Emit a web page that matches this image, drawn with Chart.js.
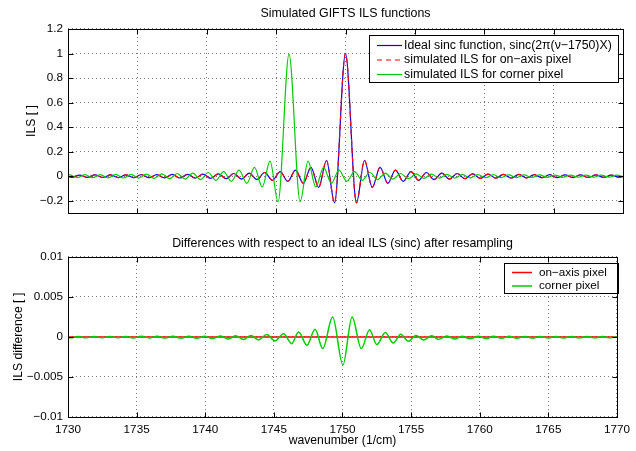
<!DOCTYPE html>
<html>
<head>
<meta charset="utf-8">
<script src="https://cdn.jsdelivr.net/npm/chart.js@4.4.0/dist/chart.umd.min.js"></script>
<style>
  html, body { margin: 0; padding: 0; background: #fff; }
  #wrap { position: relative; width: 636px; height: 451px; background: #fff; }
  #topBox { position: absolute; left: 0; top: 0; width: 636px; height: 225px; }
  #bottomBox { position: absolute; left: 0; top: 225px; width: 636px; height: 226px; }
</style>
</head>
<body>
<div id="wrap">
  <div id="topBox"><canvas id="topChart" width="636" height="225"></canvas></div>
  <div id="bottomBox"><canvas id="bottomChart" width="636" height="226"></canvas></div>
</div>
<script>
// tick labels
const wavenumberTicks = [1730, 1735, 1740, 1745, 1750, 1755, 1760, 1765, 1770];
const ilsTicks = [-0.2, 0, 0.2, 0.4, 0.6, 0.8, 1, 1.2];
const diffTicks = [-0.01, -0.005, 0, 0.005, 0.01];

// top panel: ideal sinc (and on-axis pixel, which sits on top of it), read at the extrema
const idealWavenumber = [1729.73, 1730.28, 1730.84, 1731.40, 1731.95, 1732.51, 1733.06, 1733.62, 1734.17, 1734.73,
  1735.28, 1735.84, 1736.40, 1736.95, 1737.51, 1738.06, 1738.62, 1739.17, 1739.73, 1740.28,
  1740.84, 1741.40, 1741.95, 1742.51, 1743.06, 1743.62, 1744.17, 1744.73, 1745.29, 1745.84,
  1746.40, 1746.96, 1747.51, 1748.07, 1748.63, 1749.21, 1750.00, 1750.79, 1751.37, 1751.93,
  1752.49, 1753.05, 1753.60, 1754.16, 1754.72, 1755.27, 1755.83, 1756.38, 1756.94, 1757.49,
  1758.05, 1758.60, 1759.16, 1759.72, 1760.27, 1760.83, 1761.38, 1761.94, 1762.49, 1763.05,
  1763.60, 1764.16, 1764.72, 1765.27, 1765.83, 1766.38, 1766.94, 1767.49, 1768.05, 1768.60,
  1769.16, 1769.72, 1770.27];
const idealILS = [0.009, -0.009, 0.0094, -0.0097, 0.010, -0.0103, 0.0106, -0.011, 0.0113, -0.0117,
  0.012, -0.0125, 0.013, -0.0135, 0.014, -0.015, 0.0155, -0.016, 0.017, -0.018,
  0.019, -0.0205, 0.022, -0.0235, 0.025, -0.0275, 0.030, -0.0335, 0.0375, -0.042,
  0.049, -0.058, 0.071, -0.091, 0.128, -0.217, 1.0, -0.217, 0.128, -0.091,
  0.071, -0.058, 0.049, -0.042, 0.0375, -0.0335, 0.030, -0.0275, 0.025, -0.0235,
  0.022, -0.0205, 0.019, -0.018, 0.017, -0.016, 0.0155, -0.015, 0.014, -0.0135,
  0.013, -0.0125, 0.012, -0.0117, 0.0113, -0.011, 0.0106, -0.0103, 0.010, -0.0097,
  0.0094, -0.009, 0.009];
const onAxisILS = idealILS;

// top panel: corner pixel, shifted to ~1745.9
const cornerWavenumber = [1729.55, 1730.10, 1730.66, 1731.21, 1731.77, 1732.33, 1732.88, 1733.44, 1733.99, 1734.55,
  1735.10, 1735.66, 1736.21, 1736.77, 1737.33, 1737.88, 1738.44, 1738.99, 1739.55, 1740.10,
  1740.66, 1741.22, 1741.77, 1742.33, 1742.89, 1743.44, 1744.00, 1744.56, 1745.14, 1745.93,
  1746.73, 1747.30, 1747.86, 1748.42, 1748.98, 1749.53, 1750.09, 1750.65, 1751.20, 1751.76,
  1752.31, 1752.87, 1753.42, 1753.98, 1754.54, 1755.09, 1755.65, 1756.20, 1756.76, 1757.31,
  1757.87, 1758.42, 1758.98, 1759.54, 1760.09, 1760.65, 1761.20, 1761.76, 1762.31, 1762.87,
  1763.42, 1763.98, 1764.54, 1765.09, 1765.65, 1766.20, 1766.76, 1767.31, 1767.87, 1768.42,
  1768.98, 1769.53, 1770.09];
const cornerILS = [-0.011, 0.0113, -0.0117, 0.012, -0.0125, 0.013, -0.0135, 0.014, -0.015, 0.0155,
  -0.016, 0.017, -0.018, 0.019, -0.0205, 0.022, -0.0235, 0.025, -0.0275, 0.030,
  -0.0335, 0.0375, -0.042, 0.049, -0.058, 0.071, -0.088, 0.122, -0.208, 0.995,
  -0.208, 0.122, -0.088, 0.071, -0.058, 0.049, -0.042, 0.0375, -0.0335, 0.030,
  -0.0275, 0.025, -0.0235, 0.022, -0.0205, 0.019, -0.018, 0.017, -0.016, 0.0155,
  -0.015, 0.014, -0.0135, 0.013, -0.0125, 0.012, -0.0117, 0.0113, -0.011, 0.0106,
  -0.0103, 0.010, -0.0097, 0.0094, -0.009, 0.009, -0.0088, 0.0086, -0.0084, 0.0082,
  -0.008, 0.0078, -0.0076];

// bottom panel: differences after resampling
const onAxisDiffWavenumber = [1730, 1770];
const onAxisDiff = [0, 0];
const cornerDiffWavenumber = [1729.60, 1730.18, 1730.75, 1731.33, 1731.90, 1732.48, 1733.05, 1733.63, 1734.20, 1734.78,
  1735.35, 1735.93, 1736.50, 1737.08, 1737.65, 1738.23, 1738.80, 1739.38, 1739.96, 1740.50,
  1741.12, 1741.70, 1742.20, 1742.80, 1743.33, 1743.88, 1744.48, 1745.08, 1745.70, 1746.30,
  1746.80, 1747.41, 1748.00, 1748.56, 1749.28, 1750.03, 1750.70, 1751.37, 1751.97, 1752.50,
  1753.12, 1753.70, 1754.24, 1754.80, 1755.35, 1755.90, 1756.50, 1757.00, 1757.60, 1758.20,
  1758.70, 1759.30, 1759.90, 1760.45, 1761.00, 1761.60, 1762.15, 1762.70, 1763.30, 1763.85,
  1764.40, 1765.00, 1765.55, 1766.10, 1766.70, 1767.25, 1767.80, 1768.40, 1768.95, 1769.50,
  1770.10];
const cornerDiff = [0.00006, -0.0001, 0.00006, -0.0001, 0.00007, -0.00011, 0.00007, -0.00011, 0.00007, -0.00012,
  0.00008, -0.00012, 0.00008, -0.00013, 0.00009, -0.00014, 0.00009, -0.00016, 0.0001, -0.0002,
  0.00012, -0.00025, 0.00017, -0.0003, 0.0002, -0.00037, 0.0003, -0.0005, 0.00042, -0.00083,
  0.00063, -0.00104, 0.00096, -0.00145, 0.0025, -0.0035, 0.0025, -0.00145, 0.00092, -0.00095,
  0.00055, -0.00075, 0.00034, -0.00054, 0.0002, -0.00037, 0.00015, -0.0003, 0.00012, -0.00025,
  0.0001, -0.00022, 0.00009, -0.0002, 0.00008, -0.00017, 0.00008, -0.00015, 0.00007, -0.00014,
  0.00007, -0.00013, 0.00006, -0.00012, 0.00006, -0.00011, 0.00006, -0.0001, 0.00005, -0.0001,
  0.00005];

const FONT = '"Liberation Sans", Arial, Helvetica, sans-serif';
Chart.defaults.font.family = FONT;
Chart.defaults.font.size = 11.7;
Chart.defaults.color = '#000';
Chart.defaults.animation = false;

function pts(xs, ys) {
  return xs.map((x, i) => ({ x: x, y: ys[i] }));
}

function fmt(v) {
  return String(v).replace('-', '\u2212');
}

// MATLAB-ish box around the axes with inward tick marks
const axesBox = {
  id: 'axesBox',
  afterDraw(chart) {
    const { ctx, chartArea: a, scales } = chart;
    const L = Math.round(a.left) + 0.5, R = Math.round(a.right) + 0.5;
    const T = Math.round(a.top) + 0.5, B = Math.round(a.bottom) + 0.5;
    ctx.save();
    ctx.strokeStyle = '#000';
    ctx.lineWidth = 1;
    ctx.beginPath();
    scales.x.ticks.forEach(t => {
      const px = Math.round(scales.x.getPixelForValue(t.value)) + 0.5;
      ctx.moveTo(px, B); ctx.lineTo(px, B - 5);
      ctx.moveTo(px, T); ctx.lineTo(px, T + 5);
    });
    scales.y.ticks.forEach(t => {
      const py = Math.round(scales.y.getPixelForValue(t.value)) + 0.5;
      ctx.moveTo(L, py); ctx.lineTo(L + 5, py);
      ctx.moveTo(R, py); ctx.lineTo(R - 5, py);
    });
    ctx.stroke();
    ctx.strokeRect(L, T, R - L, B - T);
    ctx.restore();
  }
};

// legend box in the upper right, drawn over the curves
const boxLegend = {
  id: 'boxLegend',
  afterDatasetsDraw(chart, args, opts) {
    const ctx = chart.ctx;
    ctx.save();
    ctx.fillStyle = '#fff';
    ctx.fillRect(opts.left, opts.top, opts.width, opts.height);
    ctx.strokeStyle = '#000';
    ctx.lineWidth = 1;
    ctx.strokeRect(opts.left + 0.5, opts.top + 0.5, opts.width, opts.height);
    ctx.font = opts.fontSize + 'px ' + FONT;
    ctx.textBaseline = 'middle';
    chart.data.datasets.forEach((ds, i) => {
      const y = opts.firstRow + i * opts.rowGap;
      ctx.strokeStyle = ds.borderColor;
      ctx.lineWidth = opts.lineWidth;
      ctx.setLineDash(ds.borderDash || []);
      ctx.beginPath();
      ctx.moveTo(opts.lineX0, y);
      ctx.lineTo(opts.lineX1, y);
      ctx.stroke();
      ctx.setLineDash([]);
      ctx.fillStyle = '#000';
      ctx.fillText(ds.label, opts.textX, y);
    });
    ctx.restore();
  }
};

function gridOpts() {
  return { color: '#777', lineWidth: 1, drawTicks: false };
}

new Chart(document.getElementById('topChart'), {
  type: 'line',
  data: {
    datasets: [
      { label: 'Ideal sinc function, sinc(2\u03c0(\u03bd\u22121750)X)', data: pts(idealWavenumber, idealILS),
        borderColor: '#0000ff', borderWidth: 1.2, order: 3 },
      { label: 'simulated ILS for on\u2212axis pixel', data: pts(idealWavenumber, onAxisILS),
        borderColor: '#ff0000', borderWidth: 1.2, borderDash: [5, 4], order: 2 },
      { label: 'simulated ILS for corner pixel', data: pts(cornerWavenumber, cornerILS),
        borderColor: '#00cc00', borderWidth: 1.2, order: 1 }
    ]
  },
  options: {
    responsive: false,
    devicePixelRatio: 1,
    layout: { padding: { left: 0, right: 13, top: 0, bottom: 0 } },
    elements: {
      point: { radius: 0 },
      line: { cubicInterpolationMode: 'monotone', fill: false }
    },
    plugins: {
      legend: { display: false },
      tooltip: { enabled: false },
      title: {
        display: true, fullSize: false,
        text: 'Simulated GIFTS ILS functions',
        font: { size: 12.4, weight: 'normal', lineHeight: 1.2 },
        padding: { top: 6.2, bottom: 7.9 }
      },
      boxLegend: {
        left: 369, top: 35, width: 249, height: 47, fontSize: 12.3,
        firstRow: 45.5, rowGap: 14.5, lineX0: 377, lineX1: 402, textX: 404, lineWidth: 1.2
      }
    },
    scales: {
      x: {
        type: 'linear', min: 1730, max: 1770,
        afterBuildTicks: s => { s.ticks = wavenumberTicks.map(v => ({ value: v })); },
        ticks: { display: false },
        grid: gridOpts(),
        border: { display: false, dash: [1, 3] },
        afterFit: s => { s.height = 12; }
      },
      y: {
        min: -0.3, max: 1.2,
        afterBuildTicks: s => { s.ticks = ilsTicks.map(v => ({ value: v })); },
        ticks: { padding: 5, callback: v => fmt(v) },
        grid: gridOpts(),
        border: { display: false, dash: [1, 3] },
        title: { display: true, text: 'ILS [ ]', font: { size: 12.2, lineHeight: 1.2 }, padding: { top: 24.7, bottom: 0 } },
        afterFit: s => { s.width = 68; }
      }
    }
  },
  plugins: [axesBox, boxLegend]
});

new Chart(document.getElementById('bottomChart'), {
  type: 'line',
  data: {
    datasets: [
      { label: 'on\u2212axis pixel', data: pts(onAxisDiffWavenumber, onAxisDiff),
        borderColor: '#ff0000', borderWidth: 1.5, order: 2 },
      { label: 'corner pixel', data: pts(cornerDiffWavenumber, cornerDiff),
        borderColor: '#00cc00', borderWidth: 1.5, order: 1 }
    ]
  },
  options: {
    responsive: false,
    devicePixelRatio: 1,
    layout: { padding: { left: 0, right: 13, top: 0, bottom: 0 } },
    elements: {
      point: { radius: 0 },
      line: { cubicInterpolationMode: 'monotone', fill: false }
    },
    plugins: {
      legend: { display: false },
      tooltip: { enabled: false },
      title: {
        display: true, fullSize: false,
        text: 'Differences with respect to an ideal ILS (sinc) after resampling',
        font: { size: 12.4, weight: 'normal', lineHeight: 1.2 },
        padding: { top: 10.9, bottom: 6.2 }
      },
      boxLegend: {
        left: 504, top: 38, width: 114, height: 30, fontSize: 11.7,
        firstRow: 47.5, rowGap: 13.5, lineX0: 512, lineX1: 532, textX: 539, lineWidth: 1.5
      }
    },
    scales: {
      x: {
        type: 'linear', min: 1730, max: 1770,
        afterBuildTicks: s => { s.ticks = wavenumberTicks.map(v => ({ value: v })); },
        ticks: { padding: 6, maxRotation: 0, callback: v => String(v) },
        grid: gridOpts(),
        border: { display: false, dash: [1, 3] },
        title: { display: true, text: 'wavenumber (1/cm)', font: { size: 12.2, lineHeight: 1.2 }, padding: { top: 0, bottom: 3.2 } },
        afterFit: s => { s.height = 34; }
      },
      y: {
        min: -0.01, max: 0.01,
        afterBuildTicks: s => { s.ticks = diffTicks.map(v => ({ value: v })); },
        ticks: { padding: 5, callback: v => fmt(v) },
        grid: gridOpts(),
        border: { display: false, dash: [1, 3] },
        title: { display: true, text: 'ILS difference [ ]', font: { size: 12.2, lineHeight: 1.2 }, padding: { top: 11.7, bottom: 0 } },
        afterFit: s => { s.width = 68; }
      }
    }
  },
  plugins: [axesBox, boxLegend]
});
</script>
</body>
</html>
